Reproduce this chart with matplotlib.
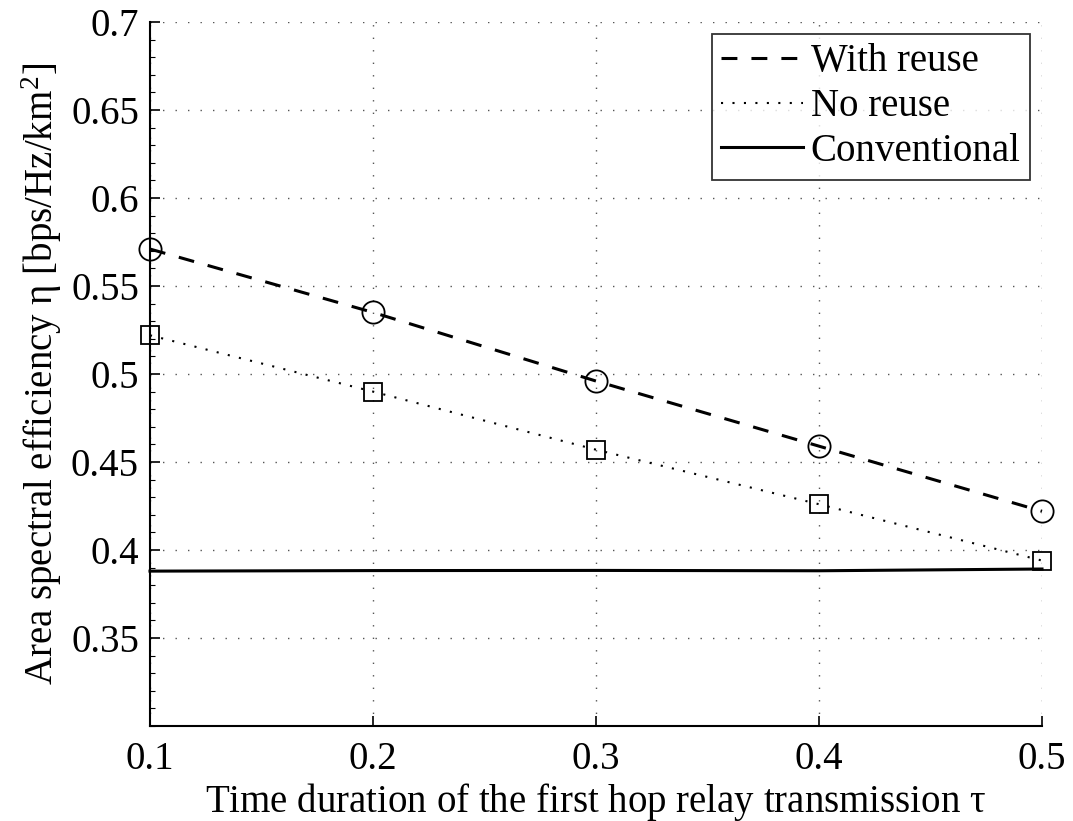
import matplotlib
matplotlib.use("Agg")
import matplotlib.pyplot as plt
from matplotlib.ticker import MultipleLocator

plt.rcParams['font.family'] = ['Liberation Serif', 'DejaVu Serif']
plt.rcParams['mathtext.fontset'] = 'stix'

# data
tau = [0.1, 0.2, 0.3, 0.4, 0.5]
with_reuse = [0.571, 0.535, 0.496, 0.459, 0.422]
no_reuse = [0.522, 0.490, 0.457, 0.426, 0.394]
conventional = [0.388, 0.3883, 0.3884, 0.3882, 0.3892]

xticks = [0.1, 0.2, 0.3, 0.4, 0.5]
yticks = [0.35, 0.4, 0.45, 0.5, 0.55, 0.6, 0.65, 0.7]

FS = 28

fig = plt.figure(figsize=(10.73, 8.21), dpi=100)
ax = fig.add_axes([150/1073, 1 - 726/821, (1042 - 150)/1073, (726 - 22)/821])

ax.plot(tau, with_reuse, color='black', linestyle=(0, (5.2, 4.6)), linewidth=2.2,
        marker='o', markersize=16, markerfacecolor='none', markeredgewidth=1.3,
        label='With reuse', clip_on=False)
ax.plot(tau, no_reuse, color='black', linestyle=(0, (1, 4.5)), linewidth=1.5,
        marker='s', markersize=13, markerfacecolor='none', markeredgewidth=1.3,
        label='No reuse', clip_on=False)
ax.plot(tau, conventional, color='black', linestyle='-', linewidth=2.2,
        label='Conventional', clip_on=False)

ax.set_xlim(0.1, 0.5)
ax.set_ylim(0.3, 0.7)
ax.set_xticks(xticks)
ax.set_xticklabels([f"{v:g}" for v in xticks])
ax.set_yticks(yticks)
ax.set_yticklabels([f"{v:g}" for v in yticks])
ax.yaxis.set_minor_locator(MultipleLocator(0.01))

ax.grid(True, which='major', color='#555555', linestyle=(0, (1, 8)), linewidth=1.0)
ax.tick_params(which='major', direction='in', length=7, width=1.2, labelsize=FS)
ax.tick_params(which='minor', direction='in', length=3.5, width=0.8)
ax.tick_params(axis='x', pad=11)
ax.tick_params(axis='y', pad=8)

for s in ['top', 'right']:
    ax.spines[s].set_visible(False)
for s in ['left', 'bottom']:
    ax.spines[s].set_linewidth(1.5)

ax.set_xlabel(r'Time duration of the first hop relay transmission $\mathregular{\tau}$', fontsize=FS, labelpad=2)
ax.set_ylabel(r'Area spectral efficiency $\mathregular{\eta}$ [bps/Hz/km$^\mathregular{2}$]', fontsize=FS, labelpad=5)

leg = ax.legend(loc='upper right', bbox_to_anchor=(1.0, 1.0), fontsize=FS, frameon=True, fancybox=False,
                edgecolor='black', handlelength=2.1, handletextpad=0.2, borderpad=0.25,
                labelspacing=0.2, borderaxespad=0.3)
leg.get_frame().set_linewidth(1.3)
for h in leg.legend_handles:
    h.set_marker('')

fig.savefig('out.png', dpi=100)
